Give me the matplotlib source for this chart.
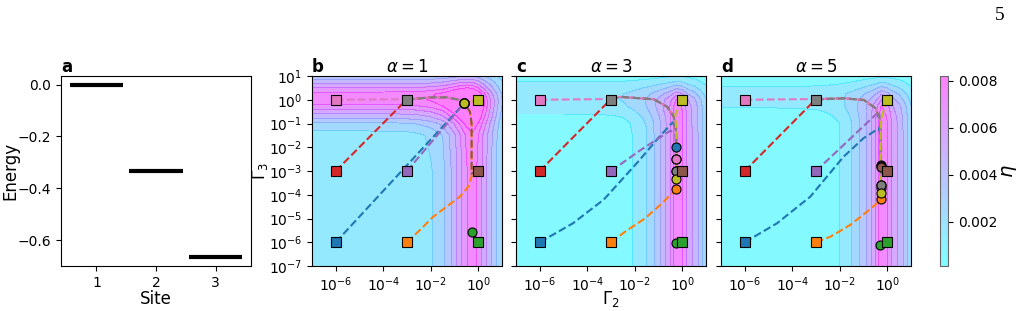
import numpy as np
import matplotlib
matplotlib.use("Agg")
import matplotlib.pyplot as plt
from matplotlib.colors import Normalize, LinearSegmentedColormap
from matplotlib.cm import ScalarMappable

# ---- panel a: site energies
sites = [1, 2, 3]
energies = [0.0, -0.333, -0.667]

# ---- eta maps, sampled on log10(Gamma) nodes
lg = [-7, -5, -3, -2.5, -2, -1.5, -1, -0.75, -0.5, -0.25, 0, 0.25, 0.5, 0.75, 1]

alphas = [1, 3, 5]
base = [0.0012, 0.0003, 0.0003]
# ridge along Gamma2 (vertical band), read at the bottom edge
ridge2_b = [0, 0, 0.0001, 0.0003, 0.0007, 0.0015, 0.0033, 0.0045, 0.0057, 0.0063, 0.0056, 0.0043, 0.0031, 0.0019, 0.0008]
ridge2_c = [0, 0, 0.0001, 0.0003, 0.0008, 0.0017, 0.0033, 0.0044, 0.0056, 0.0075, 0.0068, 0.0052, 0.0045, 0.0033, 0.0020]
ridge2_d = [0, 0, 0.0001, 0.0003, 0.0007, 0.0017, 0.0032, 0.0043, 0.0056, 0.0076, 0.0068, 0.0053, 0.0045, 0.0033, 0.0020]
# ridge along Gamma3 (horizontal band), read at the left edge
ridge3_b = [0, 0, 0, 0.0001, 0.0002, 0.0003, 0.0016, 0.0030, 0.0042, 0.0056, 0.0064, 0.0062, 0.0048, 0.0033, 0.0018]
ridge3_c = [0, 0, 0, 0, 0, 0, 0.0001, 0.0004, 0.0009, 0.0013, 0.0015, 0.0015, 0.0012, 0.0007, 0.0002]
ridge3_d = [0, 0, 0, 0, 0, 0, 0, 0.0002, 0.0005, 0.0008, 0.0010, 0.0011, 0.0008, 0.0004, 0.0001]
# how each band dies off towards large Gamma
fade3_b = [1, 1, 1, 1, 1, 1, 1, 0.97, 0.92, 0.84, 0.72, 0.57, 0.42, 0.30, 0.20]
fade2_b = [1, 1, 1, 1, 1, 1, 1, 0.97, 0.92, 0.84, 0.72, 0.57, 0.42, 0.30, 0.20]
fade3_c = [1, 1, 1, 1, 1, 1, 0.98, 0.96, 0.93, 0.88, 0.80, 0.60, 0.38, 0.20, 0.08]
fade2_c = [1, 1, 1, 1, 1, 0.95, 0.85, 0.75, 0.65, 0.55, 0.45, 0.35, 0.25, 0.15, 0.10]
fade3_d = [1, 1, 1, 1, 1, 1, 0.99, 0.96, 0.90, 0.83, 0.68, 0.52, 0.34, 0.19, 0.06]
fade2_d = [1, 1, 1, 1, 1, 0.95, 0.85, 0.75, 0.65, 0.55, 0.45, 0.35, 0.25, 0.15, 0.10]

# ---- optimisation runs: start squares (log10 Gamma2, log10 Gamma3)
start_lg2 = [-6, -3, 0, -6, -3, 0, -6, -3, 0]
start_lg3 = [-6, -6, -6, -3, -3, -3, 0, 0, 0]
run_colors = ['tab:blue', 'tab:orange', 'tab:green', 'tab:red', 'tab:purple',
              'tab:brown', 'tab:pink', 'tab:gray', 'tab:olive']

# waypoints after the start, last one is the final point (circle)
top_b = [(-2, 0.1), (-1.33, 0.1), (-0.77, -0.01), (-0.59, -0.15)]
paths_b = [
    [(-0.59, -0.15)],
    [(-2.45, -5.48), (-1.89, -4.92), (-1.33, -4.5), (-0.77, -4.08), (-0.42, -3.66),
     (-0.28, -3.24), (-0.28, -1.0), (-0.35, -0.5), (-0.59, -0.15)],
    [(-0.25, -5.55)],
    [(-3, 0.02)] + top_b,
    [(-0.59, -0.15)],
    [(-0.28, -3.1), (-0.28, -1.0), (-0.35, -0.5), (-0.59, -0.15)],
    [(-3, 0.02)] + top_b,
    top_b,
    [(-0.59, -0.15)],
]
top_c = [(-2.6, 0.12), (-1.2, 0.02), (-0.64, -0.29), (-0.36, -0.71), (-0.27, -1.27), (-0.24, -2.0)]
paths_c = [
    [(-4.6, -5.2), (-3.3, -4.2), (-1.85, -2.6), (-1.0, -1.6), (-0.4, -0.95), (-0.27, -1.2), (-0.25, -2.0)],
    [(-2.4, -5.55), (-1.56, -4.99), (-0.85, -4.36), (-0.43, -3.94), (-0.25, -3.77)],
    [(-0.27, -6.05)],
    [(-3, 0.03)] + top_c + [(-0.25, -2.51)],
    [(-1.8, -2.15), (-0.5, -1.3), (-0.3, -1.45), (-0.25, -2.0), (-0.25, -2.99)],
    [(-0.22, -3.0)],
    [(-3, 0.03)] + top_c + [(-0.25, -2.51)],
    top_c + [(-0.25, -2.99)],
    [(-0.1, -0.25), (-0.29, -0.6), (-0.25, -1.3), (-0.25, -3.35)],
]
top_d = [(-1.84, 0.06), (-0.98, -0.01), (-0.49, -0.36), (-0.28, -0.92), (-0.26, -2.1)]
paths_d = [
    [(-4.64, -5.2), (-3.24, -4.08), (-1.84, -2.4), (-1.0, -1.62), (-0.35, -1.2), (-0.28, -1.5), (-0.28, -2.75)],
    [(-2.4, -5.77), (-1.56, -5.27), (-0.85, -4.71), (-0.43, -4.36), (-0.28, -4.19)],
    [(-0.3, -6.1)],
    [(-3, 0.03)] + top_d + [(-0.28, -2.78)],
    [(-0.35, -0.5), (-0.28, -1.0), (-0.28, -3.59)],
    [(-0.28, -2.82)],
    [(-3, 0.03)] + top_d + [(-0.28, -3.73)],
    top_d + [(-0.28, -3.6)],
    [(-0.1, -0.3), (-0.25, -0.8), (-0.28, -1.5), (-0.28, -3.91)],
]

panels = [
    ('b', ridge2_b, ridge3_b, fade2_b, fade3_b, paths_b),
    ('c', ridge2_c, ridge3_c, fade2_c, fade3_c, paths_c),
    ('d', ridge2_d, ridge3_d, fade2_d, fade3_d, paths_d),
]

plt.rcParams['font.family'] = 'DejaVu Sans'
plt.rcParams['font.size'] = 10

W, H = 1020, 311
fig = plt.figure(figsize=(W / 100, H / 100), dpi=100)

def px_axes(x0, x1, y0=76, y1=266):
    return fig.add_axes([x0 / W, 1 - y1 / H, (x1 - x0) / W, (y1 - y0) / H])

# ---- a
ax = px_axes(61, 251)
ax.hlines(energies, [s - 0.45 for s in sites], [s + 0.45 for s in sites], color='k', lw=3)
ax.set_xticks(sites)
ax.set_yticks([0.0, -0.2, -0.4, -0.6])
ax.set_xlabel('Site', fontsize=12, labelpad=0)
ax.set_ylabel('Energy', fontsize=12, labelpad=-1)
ax.set_title('a', loc='left', fontweight='bold', fontsize=12, pad=3)

levels = np.arange(0, 0.0081, 0.001)
norm = Normalize(vmin=0.00013, vmax=0.0082)
lefts = [312, 516, 721]
dec_ticks = [-6, -4, -2, 0]

for k, (letter, r2, r3, f2, f3, paths) in enumerate(panels):
    ax = px_axes(lefts[k], lefts[k] + 190)
    eta = base[k] + np.outer(f3, r2) + np.outer(r3, f2)
    ax.contourf(lg, lg, eta, levels=levels, cmap='cool', norm=norm, alpha=0.5, extend='max')

    for i in range(9):
        xs = [start_lg2[i]] + [p[0] for p in paths[i]]
        ys = [start_lg3[i]] + [p[1] for p in paths[i]]
        ax.plot(xs, ys, '--', color=run_colors[i], lw=1.5, zorder=3)
    for i in range(9):
        ex, ey = paths[i][-1]
        ax.plot(ex, ey, 'o', color=run_colors[i], mec='k', mew=0.8, ms=6.5, zorder=4)
    for i in range(9):
        ax.plot(start_lg2[i], start_lg3[i], 's', color=run_colors[i], mec='k', mew=0.8,
                ms=6.5, zorder=5)

    ax.set_xlim(-7, 1)
    ax.set_ylim(-7, 1)
    ax.set_xticks(dec_ticks)
    ax.set_xticklabels([r'$10^{%d}$' % t for t in dec_ticks])
    ax.set_yticks(range(-7, 2))
    if k == 0:
        ax.set_yticklabels([r'$10^{%d}$' % t for t in range(-7, 2)])
        ax.set_ylabel(r'$\Gamma_3$', fontsize=12, labelpad=-1)
    else:
        ax.set_yticklabels([])
    if k == 1:
        ax.set_xlabel(r'$\Gamma_2$', fontsize=12, labelpad=-4)
    ax.set_title(letter, loc='left', fontweight='bold', fontsize=12, pad=3)
    ax.set_title(r'$\alpha = %d$' % alphas[k], fontsize=12, pad=3)

# ---- colorbar
pale_cool = LinearSegmentedColormap.from_list('pale_cool', [(0.5, 1, 1), (1, 0.5, 1)])
cax = px_axes(940, 948)
cb = fig.colorbar(ScalarMappable(norm=norm, cmap=pale_cool), cax=cax,
                  ticks=[0.002, 0.004, 0.006, 0.008])
cb.ax.set_yticklabels(['0.002', '0.004', '0.006', '0.008'])
cb.set_label(r'$\eta$', fontsize=14, labelpad=2)
cb.outline.set_edgecolor('0.4')

fig.text(0.98, 0.95, '5', family='Liberation Serif', fontsize=14, ha='center', va='center')

fig.savefig('out.png', dpi=100)
